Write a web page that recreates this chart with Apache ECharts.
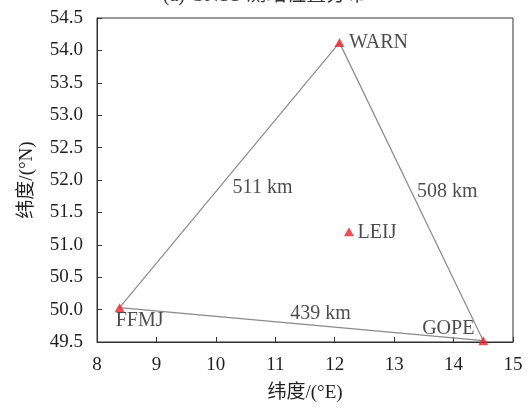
<!DOCTYPE html>
<html>
<head>
<meta charset="utf-8">
<script src="https://cdn.jsdelivr.net/npm/echarts@6/dist/echarts.min.js"></script>
<style>
  html, body { margin: 0; padding: 0; background: #fff; }
  #chart { width: 529px; height: 408px; }
</style>
</head>
<body>
<div id="chart"></div>
<script>
// GNSS stations (longitude °E, latitude °N)
const stations = ['WARN', 'LEIJ', 'FFMJ', 'GOPE'];
const lon = [12.08, 12.24, 8.38, 14.50];
const lat = [54.12, 51.20, 50.03, 49.52];

// Baselines between stations and their lengths (km)
const linkFrom = ['WARN', 'WARN', 'FFMJ'];
const linkTo = ['FFMJ', 'GOPE', 'GOPE'];
const distances = [511, 508, 439];

// Axis ranges
const xMin = 8, xMax = 15, xStep = 1;
const yMin = 49.5, yMax = 54.5, yStep = 0.5;

const FONT = '"Liberation Serif", "Times New Roman", "Noto Sans CJK SC", serif';
const TEXT = '#1e1e1e';

// label offsets for each station name / baseline length
const stationLabelOffset = {
  WARN: [39, 0],
  LEIJ: [28, 1],
  FFMJ: [20, 13],
  GOPE: [-35, -12]
};
const distLabelOffset = [[33, 13], [36, 0], [19, -10]];

const pos = name => {
  const i = stations.indexOf(name);
  return [lon[i], lat[i]];
};

const linkSeries = linkFrom.map((a, i) => ({
  type: 'line',
  data: [pos(a), pos(linkTo[i])],
  symbol: 'none',
  silent: true,
  z: 2,
  lineStyle: { color: '#8a8a8a', width: 1.2 }
}));

const distanceSeries = {
  type: 'scatter',
  symbolSize: 0,
  silent: true,
  z: 4,
  data: linkFrom.map((a, i) => {
    const p = pos(a), q = pos(linkTo[i]);
    return {
      value: [(p[0] + q[0]) / 2, (p[1] + q[1]) / 2],
      label: {
        show: true,
        position: 'inside',
        offset: distLabelOffset[i],
        formatter: distances[i] + ' km'
      }
    };
  }),
  label: { color: TEXT, fontFamily: FONT, fontSize: 20 }
};

const stationSeries = {
  type: 'scatter',
  symbol: 'triangle',
  symbolSize: [10, 9],
  z: 5,
  itemStyle: { color: '#e3252d' },
  data: stations.map((s, i) => ({
    name: s,
    value: [lon[i], lat[i]],
    label: {
      show: true,
      position: 'inside',
      offset: stationLabelOffset[s],
      formatter: s
    }
  })),
  label: { color: TEXT, fontFamily: FONT, fontSize: 20 }
};

const chart = echarts.init(document.getElementById('chart'), null, { renderer: 'canvas' });
chart.setOption({
  animation: false,
  backgroundColor: '#fff',
  title: {
    text: '(a) GNSS 测站位置分布',
    left: 'center',
    top: -19,
    textStyle: { fontFamily: FONT, fontSize: 20, fontWeight: 'normal', color: '#333' }
  },
  grid: {
    left: 97, right: 16, top: 18, bottom: 64,
    show: true, borderColor: '#333', borderWidth: 1, backgroundColor: 'transparent'
  },
  xAxis: {
    type: 'value',
    min: xMin, max: xMax, interval: xStep,
    name: '纬度/(°E)',
    nameLocation: 'middle',
    nameGap: 42,
    nameTextStyle: { fontFamily: FONT, fontSize: 19, color: TEXT },
    axisLine: { show: true, lineStyle: { color: '#333', width: 1 } },
    axisTick: { show: true, inside: true, length: 5, lineStyle: { color: '#333' } },
    axisLabel: { fontFamily: FONT, fontSize: 19, color: TEXT, margin: 14 },
    splitLine: { show: false }
  },
  yAxis: {
    type: 'value',
    min: yMin, max: yMax, interval: yStep,
    name: '纬度/(°N)',
    nameLocation: 'middle',
    nameGap: 60,
    nameRotate: 90,
    nameTextStyle: { fontFamily: FONT, fontSize: 19, color: TEXT },
    axisLine: { show: true, lineStyle: { color: '#333', width: 1 } },
    axisTick: { show: true, inside: true, length: 5, lineStyle: { color: '#333' } },
    axisLabel: {
      fontFamily: FONT, fontSize: 19, color: TEXT, margin: 14,
      formatter: v => v.toFixed(1)
    },
    splitLine: { show: false }
  },
  series: [...linkSeries, distanceSeries, stationSeries]
});
</script>
</body>
</html>
